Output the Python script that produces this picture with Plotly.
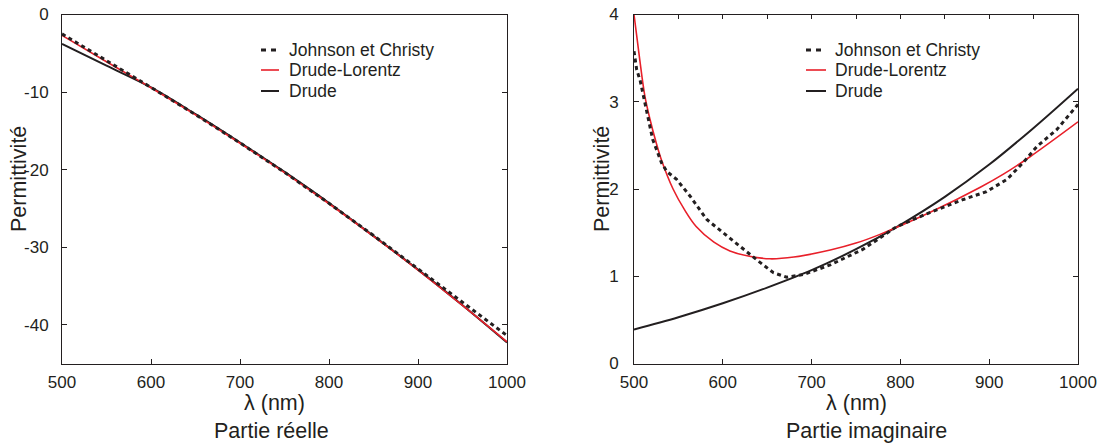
import plotly.graph_objects as go

# ---------------- data ----------------
# Real part (left panel)
lam_model_re = [500, 550, 600, 650, 700, 750, 800, 850, 900, 950, 1000]
drude_re = [-3.8, -6.6, -9.4, -12.85, -16.5, -20.3, -24.3, -28.55, -32.9, -37.5, -42.3]
dl_re = [-2.7, -6.1, -9.45, -12.95, -16.6, -20.4, -24.4, -28.6, -32.95, -37.5, -42.2]

lam_jc_re = [500, 525, 550, 575, 600, 650, 700, 750, 800, 850, 900, 925, 950, 970, 987, 1000]
jc_re = [-2.5, -4.2, -5.9, -7.7, -9.4, -12.9, -16.55, -20.35, -24.35, -28.5, -32.8, -35.0,
         -37.2, -38.9, -40.4, -41.4]

# Imaginary part (right panel)
lam_drude_im = [500, 550, 600, 650, 700, 750, 800, 850, 900, 950, 1000]
drude_im = [0.39, 0.53, 0.69, 0.87, 1.07, 1.31, 1.59, 1.91, 2.28, 2.70, 3.15]

lam_dl_im = [500, 506, 512, 518, 525, 531, 544, 557, 570, 590, 608, 630, 653, 680, 721,
             750, 777, 833, 890, 916, 946, 1000]
dl_im = [4.0, 3.52, 3.08, 2.80, 2.53, 2.33, 2.0, 1.76, 1.57, 1.39, 1.29, 1.23, 1.20, 1.22,
         1.30, 1.38, 1.48, 1.73, 2.02, 2.17, 2.37, 2.77]

lam_jc_im = [500, 503, 507, 512, 521, 531, 537, 548, 563, 582, 600, 619, 638, 657, 672,
             691, 713, 721, 758, 796, 833, 871, 897, 920, 938, 954, 976, 1000]
jc_im = [3.58, 3.37, 3.24, 3.0, 2.57, 2.30, 2.20, 2.11, 1.92, 1.65, 1.50, 1.34, 1.19, 1.04,
         0.99, 1.02, 1.10, 1.13, 1.31, 1.57, 1.73, 1.88, 1.97, 2.11, 2.30, 2.49, 2.68, 2.97]

x_ticks = [500, 600, 700, 800, 900, 1000]
y_ticks_re = [0, -10, -20, -30, -40]
y_ticks_im = [0, 1, 2, 3, 4]

series_names = ["Johnson et Christy", "Drude-Lorentz", "Drude"]
panel_titles = ["Partie réelle", "Partie imaginaire"]
x_title = "λ (nm)"
y_title = "Permittivité"

# ---------------- style ----------------
BLACK = "#231F20"
RED = "#E8202A"
FONT = "Liberation Sans, Arial, Helvetica, sans-serif"
W, H = 1101, 445

def px_x(p):
    return p / W

def px_y(p):
    return 1 - p / H

dom_left = [px_x(62), px_x(507)]
dom_right = [px_x(634), px_x(1078)]
dom_y = [px_y(363.5), px_y(14.5)]

fig = go.Figure()

jc_line = dict(color=BLACK, width=3, dash="4px,3.5px")
dl_line = dict(color=RED, width=1.6, shape="spline", smoothing=1.0)
dr_line = dict(color=BLACK, width=2, shape="spline", smoothing=1.0)

# Left panel
fig.add_trace(go.Scatter(x=lam_model_re, y=drude_re, mode="lines", line=dr_line,
                         name=series_names[2], xaxis="x", yaxis="y", showlegend=False))
fig.add_trace(go.Scatter(x=lam_model_re, y=dl_re, mode="lines", line=dl_line,
                         name=series_names[1], xaxis="x", yaxis="y", showlegend=False))
fig.add_trace(go.Scatter(x=lam_jc_re, y=jc_re, mode="lines", line=jc_line,
                         name=series_names[0], xaxis="x", yaxis="y", showlegend=False))

# Right panel
fig.add_trace(go.Scatter(x=lam_drude_im, y=drude_im, mode="lines", line=dr_line,
                         name=series_names[2], xaxis="x2", yaxis="y2", showlegend=False))
fig.add_trace(go.Scatter(x=lam_dl_im, y=dl_im, mode="lines", line=dl_line,
                         name=series_names[1], xaxis="x2", yaxis="y2", showlegend=False))
fig.add_trace(go.Scatter(x=lam_jc_im, y=jc_im, mode="lines", line=jc_line,
                         name=series_names[0], xaxis="x2", yaxis="y2", showlegend=False))

axis_common = dict(
    showgrid=False, zeroline=False, showline=True, linecolor=BLACK, linewidth=1,
    ticks="inside", ticklen=5, tickcolor=BLACK, tickwidth=1, automargin=False,
    tickfont=dict(family=FONT, size=17, color=BLACK),
)

fig.update_layout(
    template="none",
    width=W, height=H,
    margin=dict(l=0, r=0, t=0, b=0),
    paper_bgcolor="white", plot_bgcolor="white",
    font=dict(family=FONT, color=BLACK),
    xaxis=dict(domain=dom_left, range=[500, 1000], tickvals=x_ticks,
               ticktext=[str(v) for v in x_ticks], anchor="y",
               mirror=True, ticklabelstandoff=3, **axis_common),
    yaxis=dict(domain=dom_y, range=[-45, 0], tickvals=y_ticks_re,
               ticktext=[str(v) for v in y_ticks_re], anchor="x",
               mirror="ticks", ticklabelstandoff=9, **axis_common),
    xaxis2=dict(domain=dom_right, range=[500, 1000], tickvals=x_ticks,
                ticktext=[str(v) for v in x_ticks], anchor="y2",
                mirror=True, ticklabelstandoff=3, **axis_common),
    yaxis2=dict(domain=dom_y, range=[0, 4], tickvals=y_ticks_im,
                ticktext=[str(v) for v in y_ticks_im], anchor="x2",
                mirror="ticks", ticklabelstandoff=11, **axis_common),
    xaxis3=dict(overlaying="x2", side="top", range=[500, 1000], dtick=50, tick0=500,
                anchor="y2", showgrid=False, zeroline=False, showline=False,
                automargin=False,
                ticks="inside", ticklen=4, tickcolor=BLACK, showticklabels=False),
)

# Invisible trace to activate the top tick axis of the right panel
fig.add_trace(go.Scatter(x=[500, 1000], y=[None, None], xaxis="x3", yaxis="y2",
                         mode="lines", showlegend=False, hoverinfo="skip"))

ann = []
shapes = []
# axis titles & panel titles
for cx, title in [(271, panel_titles[0]), (866, panel_titles[1])]:
    ann.append(dict(x=px_x(cx), y=px_y(431), xref="paper", yref="paper", text=title,
                    showarrow=False, font=dict(family=FONT, size=21.5, color=BLACK),
                    xanchor="center", yanchor="middle"))
for cx in [274, 856]:
    ann.append(dict(x=px_x(cx), y=px_y(403), xref="paper", yref="paper", text=x_title,
                    showarrow=False, font=dict(family=FONT, size=21.5, color=BLACK),
                    xanchor="center", yanchor="middle"))
for cx in [19, 602]:
    ann.append(dict(x=px_x(cx), y=px_y(179), xref="paper", yref="paper", text=y_title,
                    showarrow=False, textangle=-90,
                    font=dict(family=FONT, size=21.5, color=BLACK),
                    xanchor="center", yanchor="middle"))

# manual legends
legend_styles = [
    dict(color=BLACK, width=3, dash="5px,5px"),
    dict(color=RED, width=1.6),
    dict(color=BLACK, width=2),
]
for x0, x1, xt in [(261, 279, 287), (806, 826, 833)]:
    for i, (nm, st) in enumerate(zip(series_names, legend_styles)):
        yy = [50, 70, 91][i]
        shapes.append(dict(type="line", xref="paper", yref="paper",
                           x0=px_x(x0), x1=px_x(x1), y0=px_y(yy), y1=px_y(yy), line=st))
        ann.append(dict(x=px_x(xt), y=px_y(yy), xref="paper", yref="paper", text=nm,
                        showarrow=False, font=dict(family=FONT, size=17.5, color=BLACK),
                        xanchor="left", yanchor="middle"))

fig.update_layout(annotations=ann, shapes=shapes)

fig.write_html(
    "out.html",
    config={"displayModeBar": False},
    post_script="document.body.style.margin='0';document.body.style.overflow='hidden';",
)
